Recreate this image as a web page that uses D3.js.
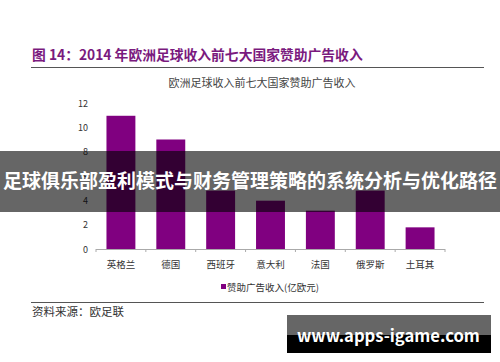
<!DOCTYPE html>
<html>
<head>
<meta charset="utf-8">
<script src="https://cdn.jsdelivr.net/npm/d3@7"></script>
<style>
  body { margin: 0; background: #fff; }
  svg { display: block; }
  text { font-family: "Noto Sans CJK SC", "DejaVu Sans", sans-serif; }
</style>
</head>
<body>
<script>
// data
var countries = ["英格兰", "德国", "西班牙", "意大利", "法国", "俄罗斯", "土耳其"];
var revenue = [10.95, 9.0, 4.8, 3.97, 3.15, 4.8, 1.78];
var yTicks = [0, 2, 4, 6, 8, 10, 12];
var seriesName = "赞助广告收入(亿欧元)";

var width = 500, height = 362;
var purple = "#800080";

var svg = d3.select("body").append("svg")
    .attr("width", width)
    .attr("height", height);

// figure heading + rules
svg.append("text")
    .attr("x", 32).attr("y", 60)
    .attr("fill", "#7a1a7e")
    .attr("font-size", 14)
    .attr("font-weight", "bold")
    .text("图 14：2014 年欧洲足球收入前七大国家赞助广告收入")
    .call(fitWidth, 331);

svg.append("line")
    .attr("x1", 31).attr("x2", 484).attr("y1", 67.5).attr("y2", 67.5)
    .attr("stroke", "#555").attr("stroke-width", 1);

svg.append("text")
    .attr("x", 262).attr("y", 87)
    .attr("text-anchor", "middle")
    .attr("fill", "#444")
    .attr("font-size", 11)
    .text("欧洲足球收入前七大国家赞助广告收入");

// scales
var x = d3.scaleBand().domain(countries).range([96, 445]).paddingInner(0.42).paddingOuter(0.21);
var y = d3.scaleLinear().domain([0, 12]).range([249, 103]);

// bars
svg.append("g").selectAll("rect")
    .data(revenue)
    .join("rect")
    .attr("x", function(d, i) { return x(countries[i]); })
    .attr("y", function(d) { return y(d); })
    .attr("width", x.bandwidth())
    .attr("height", function(d) { return y(0) - y(d); })
    .attr("fill", purple);

// y axis labels only
svg.append("g").selectAll("text")
    .data(yTicks)
    .join("text")
    .attr("x", 88)
    .attr("y", function(d) { return y(d) + 3.5; })
    .attr("text-anchor", "end")
    .attr("font-family", "Liberation Sans, Arial, sans-serif")
    .attr("font-size", 9)
    .attr("fill", "#333")
    .text(function(d) { return d; });

// x axis line with ticks between categories
var axis = svg.append("g").attr("stroke", "#aaa").attr("stroke-width", 1);
axis.append("line")
    .attr("x1", 96).attr("x2", 445).attr("y1", y(0) + 0.5).attr("y2", y(0) + 0.5);
var step = x.step();
var bounds = d3.range(countries.length + 1).map(function(i) { return 96 + i * (349 / countries.length); });
axis.selectAll(".tk")
    .data(bounds)
    .join("line")
    .attr("class", "tk")
    .attr("x1", function(d) { return d; }).attr("x2", function(d) { return d; })
    .attr("y1", y(0)).attr("y2", y(0) + 3);

svg.append("g").selectAll("text")
    .data(countries)
    .join("text")
    .attr("x", function(d) { return x(d) + x.bandwidth() / 2; })
    .attr("y", 268)
    .attr("text-anchor", "middle")
    .attr("font-size", 9.5)
    .attr("fill", "#333")
    .text(function(d) { return d; });

// legend
svg.append("rect")
    .attr("x", 221).attr("y", 284).attr("width", 5).attr("height", 5)
    .attr("fill", purple);
svg.append("text")
    .attr("x", 227).attr("y", 291)
    .attr("font-size", 9.5)
    .attr("fill", "#333")
    .text(seriesName);

svg.append("line")
    .attr("x1", 31).attr("x2", 484).attr("y1", 302.5).attr("y2", 302.5)
    .attr("stroke", "#555").attr("stroke-width", 1);

svg.append("text")
    .attr("x", 32).attr("y", 316)
    .attr("font-size", 11.5)
    .attr("fill", "#333")
    .text("资料来源：欧足联");

// overlay banner
svg.append("rect")
    .attr("x", 0).attr("y", 151).attr("width", width).attr("height", 61)
    .attr("fill", "#000").attr("fill-opacity", 0.6);
svg.append("text")
    .attr("x", width / 2).attr("y", 188)
    .attr("text-anchor", "middle")
    .attr("fill", "#fff")
    .attr("font-size", 20)
    .attr("font-weight", "bold")
    .text("足球俱乐部盈利模式与财务管理策略的系统分析与优化路径")
    .call(fitWidth, 494);

// watermark box
svg.append("rect")
    .attr("x", 287).attr("y", 315).attr("width", 204).attr("height", 38)
    .attr("fill", "#000");
svg.append("rect")
    .attr("x", 287).attr("y", 315).attr("width", 204).attr("height", 20)
    .attr("fill", "#666");
svg.append("text")
    .attr("x", 297).attr("y", 342)
    .attr("fill", "#fff")
    .attr("font-family", "DejaVu Sans, sans-serif")
    .attr("font-size", 17)
    .attr("font-weight", "bold")
    .text("www.apps-igame.com")
    .call(fitWidth, 183);

function fitWidth(sel, w) {
    sel.each(function() {
        var len = this.getComputedTextLength();
        var fs = parseFloat(d3.select(this).attr("font-size"));
        d3.select(this).attr("font-size", fs * w / len);
    });
}
</script>
</body>
</html>
